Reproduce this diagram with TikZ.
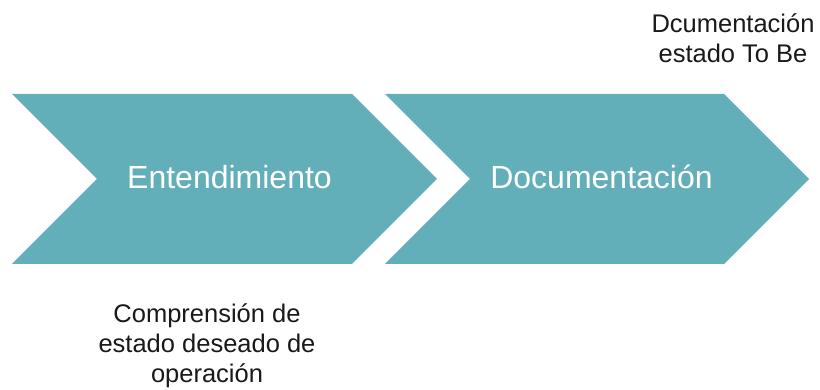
\documentclass[tikz,border=0pt]{standalone}
\usepackage{fontspec}
\setmainfont{Liberation Sans}
\definecolor{teal1}{RGB}{99,175,185}
\begin{document}
\begin{tikzpicture}[x=1pt,y=1pt,
  chev/.style={fill=teal1,draw=none},
  inlabel/.style={text=white,font=\fontsize{32}{36}\selectfont,inner sep=0pt,anchor=base},
  outlabel/.style={text=black!90,font=\fontsize{25.5}{30}\selectfont,align=center,inner sep=0pt,anchor=base}]
\useasboundingbox (0,0) rectangle (820,390);
\fill[chev] (12,296) -- (352,296) -- (437,211) -- (352,126) -- (12,126) -- (97,211) -- cycle;
\fill[chev] (385,296) -- (724,296) -- (809,211) -- (724,126) -- (385,126) -- (470,211) -- cycle;
\node[inlabel] (a) at (229.5,201) {Entendimiento};
\node[inlabel] (b) at (601.5,201) {Documentación};
\node[outlabel] (top) at (733,327) {Dcumentación\\estado To Be};
\node[outlabel] (bot) at (207,7) {Comprensión de\\estado deseado de\\operación};
\end{tikzpicture}
\end{document}
